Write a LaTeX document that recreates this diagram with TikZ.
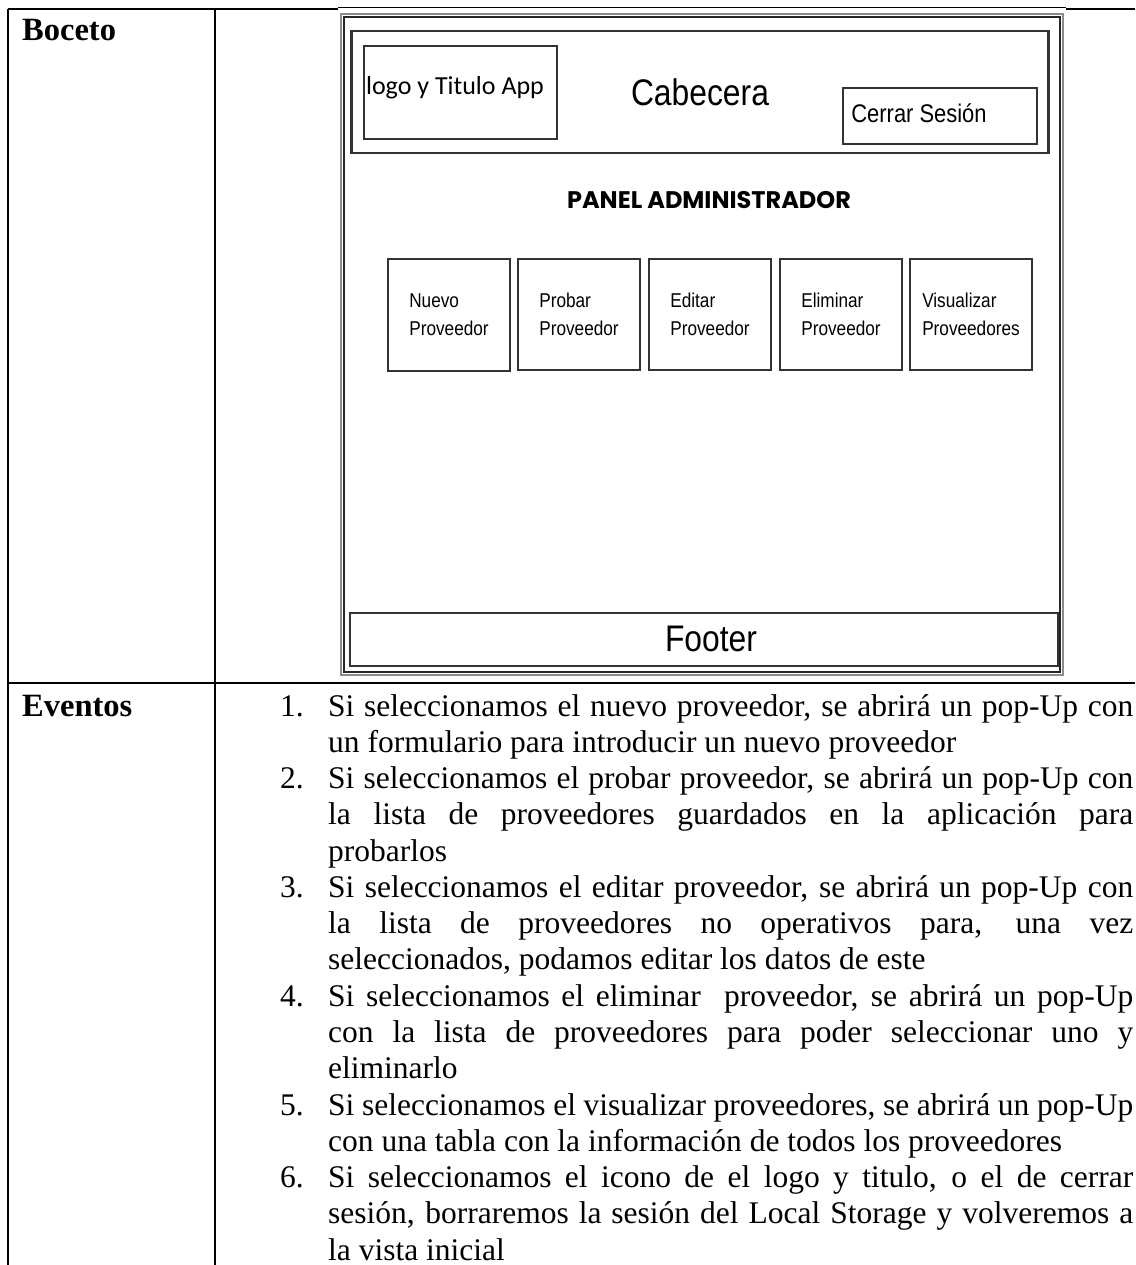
\documentclass[tikz,border=0pt]{standalone}
\usepackage{fontspec}
\setmainfont{Liberation Serif}
\newfontfamily\mocksans{Liberation Sans}
\newfontfamily\narrowsans{Liberation Sans}[FakeStretch=0.86]
\newfontfamily\logofont{Carlito}
\newfontfamily\popfont{Poppins}
\newcommand{\jline}[1]{\makebox[805pt][s]{#1}}
\tikzset{
  tline/.style={line width=2pt, black},
  mframe/.style={draw=black!80, line width=2pt, inner sep=0pt},
  btn/.style={draw=black!80, line width=2pt, minimum width=122pt, minimum height=112pt,
    align=left, inner sep=0pt, font=\narrowsans\fontsize{20}{28}\selectfont},
  bodytext/.style={anchor=base west, inner sep=0pt, font=\fontsize{31.5}{36.3}\selectfont},
  headtext/.style={anchor=base west, inner sep=0pt, font=\fontsize{32.5}{36.3}\selectfont\bfseries},
}
\begin{document}
\begin{tikzpicture}[x=1pt,y=-1pt]
\useasboundingbox (0,0) rectangle (1135,1265);
% table rules
\draw[tline] (8,9) -- (338,9);
\draw[black, line width=1pt] (338,8) -- (1066,8);
\draw[tline] (1066,9) -- (1135,9);
\draw[tline] (8,9) -- (8,1265);
\draw[black, line width=1.6pt] (215,9) -- (215,1265);
\draw[tline] (8,683) -- (1135,683);
% labels
\node[headtext] (boceto) at (22,41) {Boceto};
\node[headtext] (eventos) at (22,716) {Eventos};
% mockup frame (double)
\node[draw=black!45, line width=1.4pt, minimum width=722pt, minimum height=661pt, inner sep=0pt] (outer) at (702,344.5) {};
\node[draw=black!85, line width=1.5pt, minimum width=716pt, minimum height=655pt, inner sep=0pt] (inner) at (702,344.5) {};
% header
\node[mframe, line width=2.8pt, minimum width=697pt, minimum height=122pt] (header) at (700,92) {};
\node[mframe, minimum width=193pt, minimum height=93pt] (logo) at (460,93) {};
\node[font=\logofont\fontsize{26}{30}\selectfont, inner sep=0pt] (logotxt) at (455,88) {logo y Titulo App};
\node[font=\narrowsans\fontsize{37}{40}\selectfont, inner sep=0pt] (cab) at (700,92) {Cabecera};
\node[mframe, minimum width=194pt, minimum height=56pt] (cerrar) at (940,116) {};
\node[font=\narrowsans\fontsize{25.5}{28}\selectfont, inner sep=0pt] (cerrartxt) at (919,113) {Cerrar Sesión};
% panel title
\node[font=\popfont\bfseries\fontsize{24}{28}\selectfont, inner sep=0pt] (panel) at (709,200) {PANEL ADMINISTRADOR};
% buttons
\node[btn] (b1) at (449,315) {Nuevo\\Proveedor};
\node[btn, minimum height=111pt] (b2) at (579,314) {Probar\\Proveedor};
\node[btn, minimum height=111pt] (b3) at (710,314) {Editar\\Proveedor};
\node[btn, minimum height=111pt] (b4) at (841,314) {Eliminar\\Proveedor};
\node[btn, minimum height=111pt] (b5) at (971,314) {Visualizar\\Proveedores};
% footer
\node[mframe, minimum width=708pt, minimum height=53pt] (footer) at (704,639.5) {};
\node[font=\narrowsans\fontsize{37}{40}\selectfont, inner sep=0pt] (footertxt) at (711,639) {Footer};
% events list
\node[bodytext] (n1) at (280,716) {1.};
\node[bodytext] (l1) at (328,716) {\jline{Si seleccionamos el nuevo proveedor, se abrirá un pop-Up con}};
\node[bodytext] (l2) at (328,752.3) {un formulario para introducir un nuevo proveedor};
\node[bodytext] (n2) at (280,788.5) {2.};
\node[bodytext] (l3) at (328,788.5) {\jline{Si seleccionamos el probar proveedor, se abrirá un pop-Up con}};
\node[bodytext] (l4) at (328,824.8) {\jline{la lista de proveedores guardados en la aplicación para}};
\node[bodytext] (l5) at (328,861.1) {probarlos};
\node[bodytext] (n3) at (280,897.4) {3.};
\node[bodytext] (l6) at (328,897.4) {\jline{Si seleccionamos el editar proveedor, se abrirá un pop-Up con}};
\node[bodytext] (l7) at (328,933.6) {\jline{la lista de proveedores no operativos para, una vez}};
\node[bodytext] (l8) at (328,969.9) {seleccionados, podamos editar los datos de este};
\node[bodytext] (n4) at (280,1006.2) {4.};
\node[bodytext] (l9) at (328,1006.2) {\jline{Si seleccionamos el eliminar~ proveedor, se abrirá un pop-Up}};
\node[bodytext] (l10) at (328,1042.4) {\jline{con la lista de proveedores para poder seleccionar uno y}};
\node[bodytext] (l11) at (328,1078.7) {eliminarlo};
\node[bodytext] (n5) at (280,1115.0) {5.};
\node[bodytext] (l12) at (328,1115.0) {\jline{Si seleccionamos el visualizar proveedores, se abrirá un pop-Up}};
\node[bodytext] (l13) at (328,1151.3) {con una tabla con la información de todos los proveedores};
\node[bodytext] (n6) at (280,1187.5) {6.};
\node[bodytext] (l14) at (328,1187.5) {\jline{Si seleccionamos el icono de el logo y titulo, o el de cerrar}};
\node[bodytext] (l15) at (328,1223.8) {\jline{sesión, borraremos la sesión del Local Storage y volveremos a}};
\node[bodytext] (l16) at (328,1260.1) {la vista inicial};
\end{tikzpicture}
\end{document}
